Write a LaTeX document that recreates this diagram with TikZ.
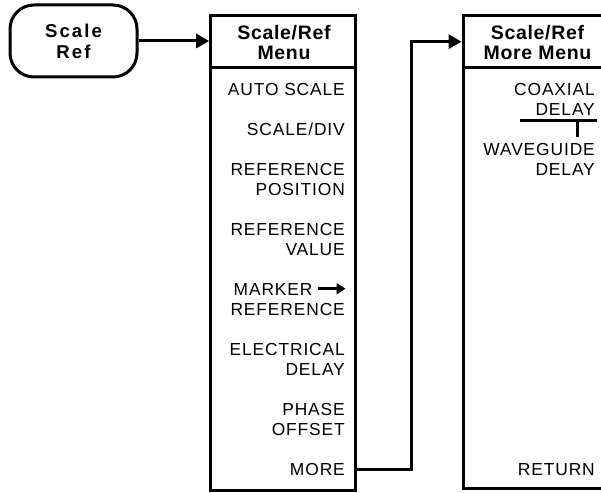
\documentclass[tikz,border=0pt]{standalone}
\usepackage{fontspec}
\setmainfont{Liberation Sans}
\newfontfamily\itemfont[LetterSpace=5]{Liberation Sans}
\newfontfamily\headfont[LetterSpace=3.5]{Liberation Sans}
\newfontfamily\btnfont[LetterSpace=11]{Liberation Sans}
\usetikzlibrary{arrows.meta}
\begin{document}
\begin{tikzpicture}[x=1pt,y=-1pt,
  frame/.style={draw, line width=3pt, inner sep=0pt},
  itemtxt/.style={anchor=base east, inner sep=0pt, font=\itemfont\fontsize{17.4}{20}\selectfont},
  headtxt/.style={anchor=base, inner sep=0pt, font=\headfont\bfseries\fontsize{19.5}{22}\selectfont},
  btntxt/.style={anchor=base, inner sep=0pt, font=\btnfont\bfseries\fontsize{18.6}{22}\selectfont},
  conn/.style={line width=3pt, -{Triangle[length=13pt,width=14pt]}},
  bar/.style={line width=3pt}]
\clip (0,0) rectangle (601,492);
% button
\node[frame, rounded corners=24pt, minimum width=127pt, minimum height=72pt] (btn) at (73.5,41) {};
\node[btntxt] (b1) at (73.5,37.3) {Scale};
\node[btntxt] (b2) at (73.5,58.3) {Ref};
% menu 1
\node[frame, minimum width=145.3pt, minimum height=474pt] (m1) at (283.3,253) {};
\coordinate (d1) at (0,68);
\draw[bar] (m1.west |- d1) -- (m1.east |- d1);
\node[headtxt] (h1a) at (284,39.3) {Scale/Ref};
\node[headtxt] (h1b) at (284,59.3) {Menu};
\node[itemtxt] (i1) at (345,95.7) {AUTO SCALE};
\node[itemtxt] (i2) at (345,135.7) {SCALE/DIV};
\node[itemtxt] (i3a) at (345,175.7) {REFERENCE};
\node[itemtxt] (i3b) at (345,195.2) {POSITION};
\node[itemtxt] (i4a) at (345,235.2) {REFERENCE};
\node[itemtxt] (i4b) at (345,255) {VALUE};
\node[itemtxt] (i5a) at (312.7,295) {MARKER};
\coordinate (mk1) at (318,288.7);
\coordinate (mk2) at (345.5,288.7);
\draw[line width=3.2pt, -{Triangle[length=9pt,width=11pt]}] (mk1) -- (mk2);
\node[itemtxt] (i5b) at (345,315) {REFERENCE};
\node[itemtxt] (i6a) at (345,355.7) {ELECTRICAL};
\node[itemtxt] (i6b) at (345,375.2) {DELAY};
\node[itemtxt] (i7a) at (345,415.7) {PHASE};
\node[itemtxt] (i7b) at (345,435.2) {OFFSET};
\node[itemtxt] (i8) at (345,475.7) {MORE};
% menu 2
\node[frame, minimum width=149pt, minimum height=472pt] (m2) at (537.5,252) {};
\draw[bar] (m2.west |- d1) -- (m2.east |- d1);
\node[headtxt] (h2a) at (537.5,39.3) {Scale/Ref};
\node[headtxt] (h2b) at (537.5,59.3) {More Menu};
\node[itemtxt] (j1a) at (595,95.7) {COAXIAL};
\node[itemtxt] (j1b) at (595,115) {DELAY};
\coordinate (t1) at (520,120);
\coordinate (t2) at (596.5,120);
\coordinate (t3) at (577,120);
\coordinate (t4) at (577,137);
\draw[bar] (t1) -- (t2);
\draw[bar] (t3) -- (t4);
\node[itemtxt] (j2a) at (595,155.2) {WAVEGUIDE};
\node[itemtxt] (j2b) at (595,175.5) {DELAY};
\node[itemtxt] (j3) at (595,475.7) {RETURN};
% connectors
\draw[conn] (btn.east) -- (m1.west |- btn.east);
\coordinate (c1) at (411.7,469);
\coordinate (c2) at (411.7,41.7);
\draw[conn] (m1.east |- c1) -- (c1) -- (c2) -- (m2.west |- c2);
\end{tikzpicture}
\end{document}
